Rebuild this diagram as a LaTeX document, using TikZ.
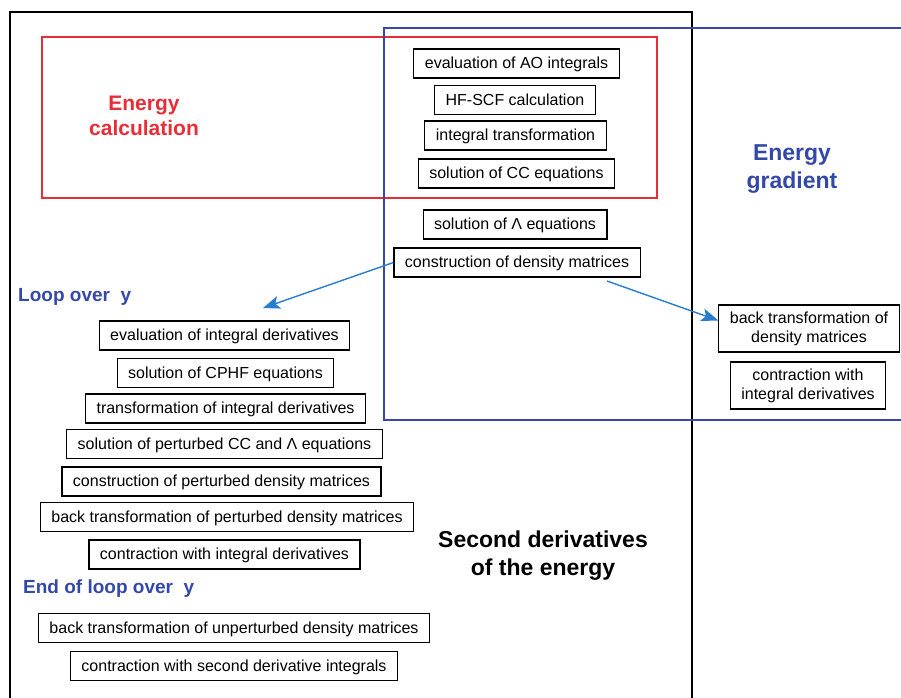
\documentclass[tikz,border=0pt]{standalone}
\usepackage{fontspec}
\setmainfont{Liberation Sans}
\usetikzlibrary{arrows.meta}
\definecolor{ecred}{RGB}{232,45,55}
\definecolor{egblue}{RGB}{52,72,170}
\definecolor{arrblue}{RGB}{40,125,205}

\begin{document}
\begin{tikzpicture}[x=1pt, y=-1pt,
	stepbox/.style={draw, line width=1.1pt, inner xsep=11pt, inner ysep=2pt, minimum height=29pt, text height=14pt, text depth=3.5pt, font=\fontsize{16}{19}\selectfont, align=center},
	twobox/.style={stepbox, minimum height=47pt, text height=, text depth=},
	title/.style={font=\bfseries\fontsize{21}{25}\selectfont, align=center},
	looptext/.style={anchor=west, inner sep=0pt, egblue, font=\bfseries\fontsize{19}{22}\selectfont},
	flow/.style={-{Stealth[length=17pt, width=13pt, inset=4pt]}, arrblue, line width=1.4pt}]
	\useasboundingbox (0,0) rectangle (901,697);
	\draw[line width=1.8pt] (10,12) rectangle (692,720);
	\draw[ecred, line width=1.8pt] (42,37) rectangle (657,198);
	\draw[egblue, line width=1.8pt] (384,28) rectangle (920,420);

	\node[title, ecred] (encalc) at (144,116) {Energy\\calculation};
	\node[title, egblue, font=\bfseries\fontsize{23}{28}\selectfont] (engrad) at (792,169) {Energy\\gradient};
	\node[title, font=\bfseries\fontsize{23}{28}\selectfont] (secder) at (543,556) {Second derivatives\\of the energy};

	\node[stepbox] (aoint) at (516.5,63.5) {evaluation of AO integrals};
	\node[stepbox] (hfscf) at (515,100) {HF-SCF calculation};
	\node[stepbox] (inttr) at (515.5,135.5) {integral transformation};
	\node[stepbox] (cceq) at (516.5,173.5) {solution of CC equations};
	\node[stepbox] (lameq) at (515,224.5) {solution of Λ equations};
	\node[stepbox] (dens) at (517,262.5) {construction of density matrices};

	\node[twobox] (btdens) at (809,328.5) {back transformation of\\density matrices};
	\node[twobox] (contr) at (808,385.5) {contraction with\\integral derivatives};

	\node[looptext] (loopbeg) at (18,297) {Loop over\ \ y};
	\node[stepbox] (evder) at (224.5,335.5) {evaluation of integral derivatives};
	\node[stepbox] (cphf) at (225.5,373) {solution of CPHF equations};
	\node[stepbox] (trder) at (225.5,408.5) {transformation of integral derivatives};
	\node[stepbox] (pcceq) at (224.5,444) {solution of perturbed CC and Λ equations};
	\node[stepbox] (pdens) at (221.5,481.5) {construction of perturbed density matrices};
	\node[stepbox] (pbtdens) at (227,517) {back transformation of perturbed density matrices};
	\node[stepbox] (pcontr) at (224.5,554.5) {contraction with integral derivatives};
	\node[looptext] (loopend) at (23,589) {End of loop over\ \ y};
	\node[stepbox] (ubtdens) at (234,628) {back transformation of unperturbed density matrices};
	\node[stepbox] (seccontr) at (234,666) {contraction with second derivative integrals};

	\coordinate (looptip) at (263,308);
	\coordinate (gradtail) at (607,281);
	\draw[flow] (dens.west) -- (looptip);
	\draw[flow] (gradtail) -- ([yshift=8pt]btdens.west);
\end{tikzpicture}
\end{document}
